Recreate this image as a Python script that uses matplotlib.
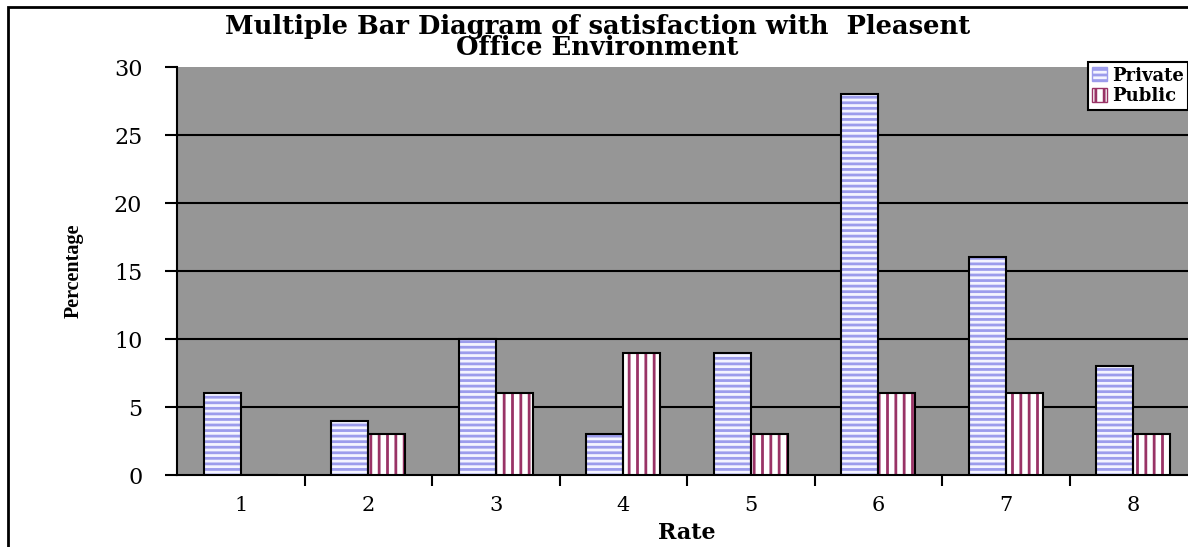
import matplotlib.pyplot as plt
import matplotlib.patches as mpatches
import numpy as np

# Survey results: percentage of respondents per satisfaction rate
rates = ["1", "2", "3", "4", "5", "6", "7", "8"]
private = [6, 4, 10, 3, 9, 28, 16, 8]
public = [0, 3, 6, 9, 3, 6, 6, 3]

plt.rcParams['font.family'] = 'DejaVu Serif'
plt.rcParams['hatch.linewidth'] = 2.0

fig = plt.figure(figsize=(11.88, 5.47), dpi=100)
ax = fig.add_axes([0.149, 0.1316, 0.8586, 0.7459])
ax.set_facecolor('#969696')

x = np.arange(1, len(rates) + 1)
w = 0.29

# striped fill first (hatch takes the edge colour), black outline on top
ax.bar(x - w / 2, private, w, color='#f4f4ff', edgecolor='#9c9cec', hatch='---', linewidth=0, zorder=3)
ax.bar(x - w / 2, private, w, fill=False, edgecolor='black', linewidth=1.5, zorder=4)
ax.bar(x + w / 2, public, w, color='white', edgecolor='#993366', hatch='||', linewidth=0, zorder=3)
ax.bar(x + w / 2, public, w, fill=False, edgecolor='black', linewidth=1.5, zorder=4)

ax.set_xlim(0.5, len(rates) + 0.5)
ax.set_ylim(0, 30)
ax.set_yticks(range(0, 31, 5))
ax.tick_params(axis='y', labelsize=16, length=9, width=1.5, pad=16, direction='out')
for v in range(5, 30, 5):
    ax.axhline(v, color='black', linewidth=1.5, zorder=1)

ax.set_xticks(x)
ax.set_xticklabels(rates)
ax.set_xticks(np.arange(1.5, len(rates)), minor=True)
ax.tick_params(axis='x', which='major', length=0, labelsize=15, pad=15)
ax.tick_params(axis='x', which='minor', length=8, width=1.5, direction='out')

for s in ['top', 'right']:
    ax.spines[s].set_visible(False)
for s in ['left', 'bottom']:
    ax.spines[s].set_linewidth(1.5)

ax.set_xlabel("Rate", fontsize=16, fontweight='bold', labelpad=5)
ax.set_ylabel("Percentage", fontsize=14.5, fontweight='bold', family='Liberation Serif', labelpad=22)

fig.suptitle("Multiple Bar Diagram of satisfaction with  Pleasent\nOffice Environment",
             fontsize=18.5, fontweight='bold', x=0.503, y=0.974, linespacing=0.78)

# legend with hatched keys
h_priv = mpatches.Patch(facecolor='#f4f4ff', edgecolor='#9c9cec', hatch='---')
h_pub = mpatches.Patch(facecolor='white', edgecolor='#993366', hatch='||')
leg = ax.legend([h_priv, h_pub], ["Private", "Public"], loc='upper right',
                bbox_to_anchor=(0.9915, 1.012), fancybox=False, framealpha=1,
                edgecolor='black', prop={'weight': 'bold', 'size': 13},
                handlelength=0.8, handleheight=0.8, handletextpad=0.3,
                borderpad=0.25, labelspacing=0.15, borderaxespad=0)
leg.get_frame().set_linewidth(1.5)
leg.set_zorder(10)

# outer chart border
fig.patches.append(mpatches.Rectangle((8 / 1188, -0.1), 1.2, 1.1 - 7 / 547,
                                      transform=fig.transFigure, fill=False,
                                      edgecolor='black', linewidth=2))

fig.savefig("out.png", dpi=100)
